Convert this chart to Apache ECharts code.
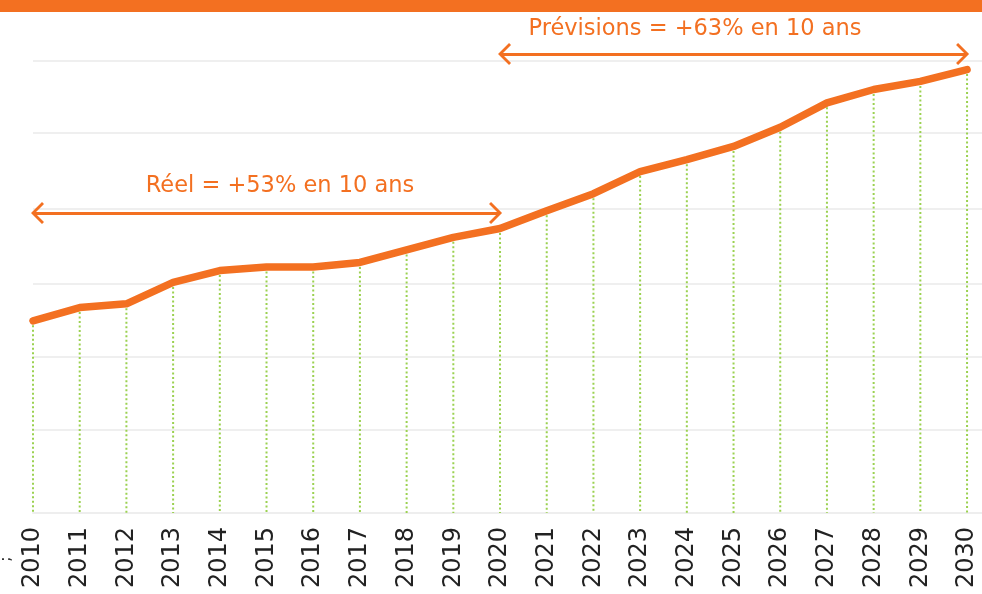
<!DOCTYPE html>
<html>
<head>
<meta charset="utf-8">
<script src="https://cdn.jsdelivr.net/npm/echarts@6/dist/echarts.min.js"></script>
<style>
  html, body { margin: 0; padding: 0; background: #fff; }
  #chart { width: 982px; height: 594px; }
</style>
</head>
<body>
<div id="chart"></div>
<script>
// données (unités arbitraires, axe non gradué)
const years = [2010, 2011, 2012, 2013, 2014, 2015, 2016, 2017, 2018, 2019, 2020,
               2021, 2022, 2023, 2024, 2025, 2026, 2027, 2028, 2029, 2030];
const values = [130, 139, 141.5, 156, 164, 166.5, 166.5, 169.5, 178, 186.5, 192.5,
                204.5, 216, 231, 239, 248, 261, 277.5, 286.5, 292, 300];
const gridValues = [56, 106, 155, 206, 257, 306];

// flèches : de / à / niveau
const reelArrow = [2010, 2020, 203];
const prevArrow = [2020, 2030, 310.5];
const reelText = 'Réel = +53% en 10 ans';
const prevText = 'Prévisions = +63% en 10 ans';

const orange = '#f37021';
const green = '#9bd150';
// chevron ouvert, pointe vers le haut (pointe ~2px devant l'extrémité)
const chevron = 'path://M11,-9 L11,-9 Z M0,11 L11,0 L22,11 L20,13 L11,4 L2,13 Z';

const points = years.map((y, i) => [y, values[i]]);

const chart = echarts.init(document.getElementById('chart'));

const option = {
  animation: false,
  grid: { left: 33, right: 0, top: 40, bottom: 81 },
  xAxis: {
    type: 'value',
    min: 2010,
    max: 2030.32,
    interval: 1,
    axisLine: { show: true, lineStyle: { color: '#eeeeee', width: 2 } },
    axisTick: { show: false },
    splitLine: { show: false },
    axisLabel: {
      rotate: 90,
      margin: 14,
      showMaxLabel: false,
      fontFamily: 'DejaVu Sans',
      fontSize: 24,
      color: '#222',
      formatter: v => (Number.isInteger(v) ? String(v) : '')
    }
  },
  yAxis: {
    type: 'value',
    min: 0,
    max: 320,
    show: false,
    splitLine: { show: false }
  },
  series: [
    {
      // lignes verticales pointillées + grille horizontale
      type: 'custom',
      z: 1,
      silent: true,
      data: points,
      renderItem: (params, api) => {
        const top = api.coord([api.value(0), api.value(1)]);
        const bot = api.coord([api.value(0), 0]);
        return {
          type: 'line',
          shape: { x1: top[0], y1: top[1], x2: bot[0], y2: bot[1] },
          style: { stroke: green, lineWidth: 2, lineDash: [2, 2.5] }
        };
      },
      markLine: {
        silent: true,
        z: 1,
        symbol: 'none',
        label: { show: false },
        lineStyle: { color: '#efefef', width: 2, type: 'solid' },
        data: gridValues.map(v => ({ yAxis: v }))
      }
    },
    {
      type: 'line',
      z: 10,
      data: points,
      symbol: 'none',
      lineStyle: { color: orange, width: 7.5, cap: 'round', join: 'round' },
      markLine: {
        silent: true,
        z: 10,
        symbol: [chevron, chevron],
        symbolSize: [22, 22],
        label: { show: false },
        lineStyle: { color: orange, width: 3, type: 'solid' },
        itemStyle: { color: orange },
        data: [
          [{ coord: [reelArrow[0], reelArrow[2]] }, { coord: [reelArrow[1], reelArrow[2]] }],
          [{ coord: [prevArrow[0], prevArrow[2]] }, { coord: [prevArrow[1], prevArrow[2]] }]
        ]
      }
    }
  ],
  graphic: [
    { type: 'rect', left: 0, top: 0, shape: { width: 982, height: 12 }, style: { fill: orange }, z: 10 },
    {
      type: 'text', x: 280, y: 186,
      style: { text: reelText, fill: orange, font: '22.5px "DejaVu Sans"', align: 'center', verticalAlign: 'middle' }
    },
    {
      type: 'text', x: 695, y: 29,
      style: { text: prevText, fill: orange, font: '22.5px "DejaVu Sans"', align: 'center', verticalAlign: 'middle' }
    },
    {
      type: 'text', x: 6, y: 559, rotation: Math.PI / 2,
      style: { text: ';', fill: '#333', font: '16px "DejaVu Sans"', align: 'center', verticalAlign: 'middle' }
    }
  ]
};

chart.setOption(option);
</script>
</body>
</html>
